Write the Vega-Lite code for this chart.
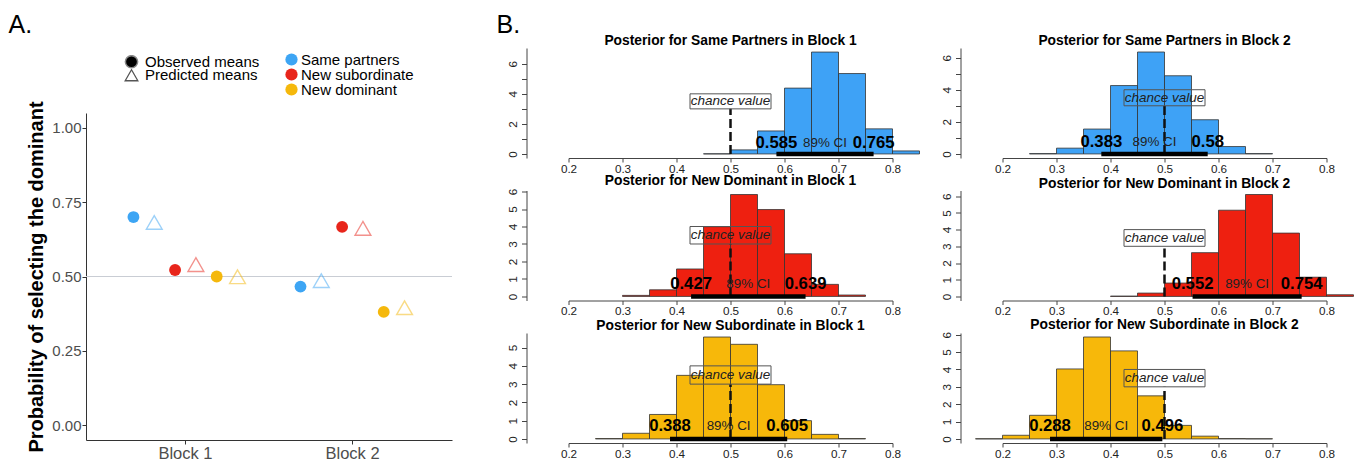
{
  "$schema": "https://vega.github.io/schema/vega-lite/v6.json",
  "padding": {"left": 8, "top": 13, "right": 0, "bottom": 0},
  "config": {
    "font": "Liberation Sans",
    "view": {"stroke": null},
    "axis": {"grid": false, "labelFlush": false, "labelOverlap": false},
    "title": {"color": "black"}
  },
  "datasets": {
    "means": [
      {"block": "Block 1", "condition": "Same partners", "type": "Observed means", "series": "Same partners Observed", "prob": 0.700},
      {"block": "Block 1", "condition": "Same partners", "type": "Predicted means", "series": "Same partners Predicted", "prob": 0.682},
      {"block": "Block 1", "condition": "New subordinate", "type": "Observed means", "series": "New subordinate Observed", "prob": 0.522},
      {"block": "Block 1", "condition": "New subordinate", "type": "Predicted means", "series": "New subordinate Predicted", "prob": 0.540},
      {"block": "Block 1", "condition": "New dominant", "type": "Observed means", "series": "New dominant Observed", "prob": 0.500},
      {"block": "Block 1", "condition": "New dominant", "type": "Predicted means", "series": "New dominant Predicted", "prob": 0.499},
      {"block": "Block 2", "condition": "Same partners", "type": "Observed means", "series": "Same partners Observed", "prob": 0.466},
      {"block": "Block 2", "condition": "Same partners", "type": "Predicted means", "series": "Same partners Predicted", "prob": 0.486},
      {"block": "Block 2", "condition": "New subordinate", "type": "Observed means", "series": "New subordinate Observed", "prob": 0.667},
      {"block": "Block 2", "condition": "New subordinate", "type": "Predicted means", "series": "New subordinate Predicted", "prob": 0.662},
      {"block": "Block 2", "condition": "New dominant", "type": "Observed means", "series": "New dominant Observed", "prob": 0.381},
      {"block": "Block 2", "condition": "New dominant", "type": "Predicted means", "series": "New dominant Predicted", "prob": 0.395}
    ],
    "chance": [{"prob": 0.5}],
    "ci": [
      {"panel": "sp1", "lower": 0.585, "upper": 0.765},
      {"panel": "sp2", "lower": 0.383, "upper": 0.58},
      {"panel": "nd1", "lower": 0.427, "upper": 0.639},
      {"panel": "nd2", "lower": 0.552, "upper": 0.754},
      {"panel": "ns1", "lower": 0.388, "upper": 0.605},
      {"panel": "ns2", "lower": 0.288, "upper": 0.496}
    ],
    "bins": [
      {"panel": "sp1", "lo": 0.45, "hi": 0.50, "density": 0.01},
      {"panel": "sp1", "lo": 0.50, "hi": 0.55, "density": 0.27},
      {"panel": "sp1", "lo": 0.55, "hi": 0.60, "density": 1.53},
      {"panel": "sp1", "lo": 0.60, "hi": 0.65, "density": 4.38},
      {"panel": "sp1", "lo": 0.65, "hi": 0.70, "density": 6.78},
      {"panel": "sp1", "lo": 0.70, "hi": 0.75, "density": 5.35},
      {"panel": "sp1", "lo": 0.75, "hi": 0.80, "density": 1.67},
      {"panel": "sp1", "lo": 0.80, "hi": 0.85, "density": 0.20},
      {"panel": "sp2", "lo": 0.25, "hi": 0.30, "density": 0.02},
      {"panel": "sp2", "lo": 0.30, "hi": 0.35, "density": 0.36},
      {"panel": "sp2", "lo": 0.35, "hi": 0.40, "density": 1.55},
      {"panel": "sp2", "lo": 0.40, "hi": 0.45, "density": 4.26},
      {"panel": "sp2", "lo": 0.45, "hi": 0.50, "density": 6.35},
      {"panel": "sp2", "lo": 0.50, "hi": 0.55, "density": 4.87},
      {"panel": "sp2", "lo": 0.55, "hi": 0.60, "density": 2.13},
      {"panel": "sp2", "lo": 0.60, "hi": 0.65, "density": 0.46},
      {"panel": "sp2", "lo": 0.65, "hi": 0.70, "density": 0.02},
      {"panel": "nd1", "lo": 0.30, "hi": 0.35, "density": 0.06},
      {"panel": "nd1", "lo": 0.35, "hi": 0.40, "density": 0.38},
      {"panel": "nd1", "lo": 0.40, "hi": 0.45, "density": 1.57},
      {"panel": "nd1", "lo": 0.45, "hi": 0.50, "density": 3.99},
      {"panel": "nd1", "lo": 0.50, "hi": 0.55, "density": 5.83},
      {"panel": "nd1", "lo": 0.55, "hi": 0.60, "density": 4.97},
      {"panel": "nd1", "lo": 0.60, "hi": 0.65, "density": 2.44},
      {"panel": "nd1", "lo": 0.65, "hi": 0.70, "density": 0.69},
      {"panel": "nd1", "lo": 0.70, "hi": 0.75, "density": 0.08},
      {"panel": "nd2", "lo": 0.40, "hi": 0.45, "density": 0.02},
      {"panel": "nd2", "lo": 0.45, "hi": 0.50, "density": 0.20},
      {"panel": "nd2", "lo": 0.50, "hi": 0.55, "density": 0.80},
      {"panel": "nd2", "lo": 0.55, "hi": 0.60, "density": 2.62},
      {"panel": "nd2", "lo": 0.60, "hi": 0.65, "density": 5.16},
      {"panel": "nd2", "lo": 0.65, "hi": 0.70, "density": 6.10},
      {"panel": "nd2", "lo": 0.70, "hi": 0.75, "density": 3.79},
      {"panel": "nd2", "lo": 0.75, "hi": 0.80, "density": 1.15},
      {"panel": "nd2", "lo": 0.80, "hi": 0.85, "density": 0.10},
      {"panel": "ns1", "lo": 0.25, "hi": 0.30, "density": 0.02},
      {"panel": "ns1", "lo": 0.30, "hi": 0.35, "density": 0.31},
      {"panel": "ns1", "lo": 0.35, "hi": 0.40, "density": 1.34},
      {"panel": "ns1", "lo": 0.40, "hi": 0.45, "density": 3.48},
      {"panel": "ns1", "lo": 0.45, "hi": 0.50, "density": 5.58},
      {"panel": "ns1", "lo": 0.50, "hi": 0.55, "density": 5.18},
      {"panel": "ns1", "lo": 0.55, "hi": 0.60, "density": 2.97},
      {"panel": "ns1", "lo": 0.60, "hi": 0.65, "density": 1.00},
      {"panel": "ns1", "lo": 0.65, "hi": 0.70, "density": 0.25},
      {"panel": "ns1", "lo": 0.70, "hi": 0.75, "density": 0.02},
      {"panel": "ns2", "lo": 0.15, "hi": 0.20, "density": 0.01},
      {"panel": "ns2", "lo": 0.20, "hi": 0.25, "density": 0.21},
      {"panel": "ns2", "lo": 0.25, "hi": 0.30, "density": 1.36},
      {"panel": "ns2", "lo": 0.30, "hi": 0.35, "density": 4.03},
      {"panel": "ns2", "lo": 0.35, "hi": 0.40, "density": 5.87},
      {"panel": "ns2", "lo": 0.40, "hi": 0.45, "density": 5.07},
      {"panel": "ns2", "lo": 0.45, "hi": 0.50, "density": 2.48},
      {"panel": "ns2", "lo": 0.50, "hi": 0.55, "density": 0.78},
      {"panel": "ns2", "lo": 0.55, "hi": 0.60, "density": 0.16},
      {"panel": "ns2", "lo": 0.60, "hi": 0.65, "density": 0.02},
      {"panel": "ns2", "lo": 0.65, "hi": 0.70, "density": 0.01}
    ]
  },
  "resolve": {
    "scale": {"color": "independent", "shape": "independent"},
    "legend": {"color": "independent", "shape": "independent"}
  },
  "spacing": 43.5,
  "hconcat": [
    {
      "title": {"text": "A.", "anchor": "start", "frame": "group", "fontSize": 25, "fontWeight": "normal", "baseline": "alphabetic", "offset": -10, "dx": -77.5},
      "width": 366,
      "height": 392,
      "resolve": {"scale": {"shape": "independent"}, "legend": {"shape": "independent"}},
      "layer": [
        {
          "data": {"name": "chance"},
          "mark": {"type": "rule", "color": "#c9cdd4", "strokeWidth": 1.2},
          "encoding": {
            "y": {"field": "prob", "type": "quantitative", "title": "Probability of selecting the dominant"}
          }
        },
        {
          "data": {"name": "means"},
          "transform": [{"filter": "datum.type === 'Observed means'"}],
          "mark": {"type": "point", "filled": true, "size": 140, "opacity": 1},
          "encoding": {
            "x": {"field": "block", "type": "nominal", "scale": {"paddingInner": 0.377, "paddingOuter": 0.284},
                  "axis": {"title": null, "labelAngle": 0, "labelFontSize": 16.5, "labelColor": "#4d4d4d", "tickSize": 4, "labelPadding": 1, "domainColor": "#333", "tickColor": "#333"}},
            "xOffset": {"field": "series", "type": "nominal", "scale": {"domain": ["Same partners Observed", "Same partners Predicted", "New subordinate Observed", "New subordinate Predicted", "New dominant Observed", "New dominant Predicted"], "paddingInner": 0, "paddingOuter": 0}},
            "y": {"field": "prob", "type": "quantitative", "title": "Probability of selecting the dominant",
                  "scale": {"domain": [-0.05, 1.05], "nice": false, "zero": false, "range": [392, 65]},
                  "axis": {"values": [0, 0.25, 0.5, 0.75, 1], "tickCount": 10, "format": ".2f", "labelFontSize": 15, "labelColor": "#4d4d4d", "tickSize": 4, "labelPadding": 1, "titlePadding": 5, "titleFontSize": 20, "titleFontWeight": "bold", "titleColor": "black", "domainColor": "#333", "tickColor": "#333"}},
            "color": {"field": "condition", "type": "nominal",
                      "scale": {"domain": ["Same partners", "New subordinate", "New dominant"], "range": ["#3da5f4", "#e8251b", "#f5b80c"]},
                      "legend": {"orient": "none", "legendX": 198, "legendY": 5, "title": null, "labelFontSize": 15, "labelColor": "black", "symbolType": "circle", "symbolSize": 150, "symbolOpacity": 1, "symbolStrokeWidth": 0, "rowPadding": -1, "clipHeight": 13, "labelOffset": 2}},
            "shape": {"field": "type", "type": "nominal",
                      "scale": {"domain": ["Observed means"], "range": ["circle"]},
                      "legend": {"orient": "none", "legendX": 38, "legendY": 7, "title": null, "labelFontSize": 15, "labelColor": "black", "symbolSize": 150, "symbolFillColor": "black", "symbolOpacity": 1, "clipHeight": 13.5, "labelOffset": 6}}
          }
        },
        {
          "data": {"name": "means"},
          "transform": [{"filter": "datum.type === 'Predicted means'"}],
          "mark": {"type": "point", "filled": false, "size": 250, "strokeWidth": 1.4, "opacity": 0.5},
          "encoding": {
            "x": {"field": "block", "type": "nominal"},
            "xOffset": {"field": "series", "type": "nominal"},
            "y": {"field": "prob", "type": "quantitative", "title": "Probability of selecting the dominant"},
            "color": {"field": "condition", "type": "nominal",
                      "legend": {"orient": "none", "legendX": 198, "legendY": 5, "title": null, "labelFontSize": 15, "labelColor": "black", "symbolType": "circle", "symbolSize": 150, "symbolOpacity": 1, "symbolStrokeWidth": 0, "rowPadding": -1, "clipHeight": 13, "labelOffset": 2}},
            "shape": {"field": "type", "type": "nominal",
                      "scale": {"domain": ["Predicted means"], "range": ["triangle-up"]},
                      "legend": {"orient": "none", "legendX": 38, "legendY": 20.5, "title": null, "labelFontSize": 15, "labelColor": "black", "symbolSize": 160, "symbolStrokeColor": "#555", "symbolStrokeWidth": 1.3, "symbolOpacity": 1, "clipHeight": 13.5, "labelOffset": 6}}
          }
        }
      ]
    },
    {
      "title": {"text": "B.", "anchor": "start", "frame": "group", "fontSize": 25, "fontWeight": "normal", "baseline": "alphabetic", "offset": -24, "dx": -72},
      "columns": 2,
      "spacing": {"row": 32.5, "column": 110},
      "bounds": "flush",
      "concat": [
        {
          "width": 324, "height": 110,
          "title": {"text": "Posterior for Same Partners in Block 1", "fontSize": 13.8, "fontWeight": "bold", "frame": "group", "anchor": "middle", "baseline": "alphabetic", "offset": -11},
          "layer": [
            {"data": {"name": "bins"}, "transform": [{"filter": "datum.panel === 'sp1'"}],
             "mark": {"type": "rect", "fill": "#3ea2f6", "stroke": "#333", "strokeWidth": 0.8},
             "encoding": {
               "x": {"field": "lo", "type": "quantitative", "scale": {"domain": [0.2, 0.8], "nice": false, "zero": false},
                     "axis": {"title": null, "values": [0.2, 0.3, 0.4, 0.5, 0.6, 0.7, 0.8], "tickCount": 10, "format": ".1f", "labelFontSize": 11.7, "labelColor": "#222", "tickSize": 4, "labelPadding": 1, "labelOverlap": false, "domainColor": "#444", "tickColor": "#444"}},
               "x2": {"field": "hi"},
               "y": {"field": "density", "type": "quantitative", "scale": {"domain": [-0.27, 7.05], "nice": false, "zero": false},
                     "axis": {"title": null, "values": [0, 1, 2, 3, 4, 5, 6], "tickCount": 10, "format": "d", "labelExpr": "datum.value % 2 === 0 ? datum.label : ''", "offset": 42, "labelAngle": -90, "labelAlign": "center", "labelBaseline": "bottom", "labelOverlap": false, "labelFontSize": 11.7, "labelColor": "#222", "tickSize": 5, "labelPadding": 3, "domainColor": "#444", "tickColor": "#444"}},
               "y2": {"datum": 0}
             }},
            {"data": {"name": "chance"}, "mark": {"type": "rule", "color": "#111", "strokeWidth": 2.5, "strokeDash": [9, 4]},
             "encoding": {"x": {"field": "prob", "type": "quantitative"}, "y": {"datum": 0}, "y2": {"datum": 3}}},
            {"data": {"name": "chance"}, "mark": {"type": "rect", "filled": false, "stroke": "#555", "strokeWidth": 1},
             "encoding": {"x": {"datum": 0.425}, "x2": {"datum": 0.575}, "y": {"datum": 3}, "y2": {"datum": 4}}},
            {"data": {"name": "chance"}, "mark": {"type": "text", "text": "chance value", "fontStyle": "italic", "fontSize": 13.5, "color": "#222", "baseline": "middle"},
             "encoding": {"x": {"field": "prob", "type": "quantitative"}, "y": {"datum": 3.5}}},
            {"data": {"name": "ci"}, "transform": [{"filter": "datum.panel === 'sp1'"}], "mark": {"type": "rule", "color": "black", "strokeWidth": 4.5},
             "encoding": {"x": {"field": "lower", "type": "quantitative"}, "x2": {"field": "upper"}, "y": {"datum": 0}}},
            {"data": {"name": "ci"}, "transform": [{"filter": "datum.panel === 'sp1'"}], "mark": {"type": "text", "fontSize": 16.7, "fontWeight": "bold", "color": "black", "baseline": "middle"},
             "encoding": {"x": {"field": "lower", "type": "quantitative"}, "y": {"datum": 0.72}, "text": {"field": "lower", "type": "nominal"}}},
            {"data": {"name": "ci"}, "transform": [{"filter": "datum.panel === 'sp1'"}], "mark": {"type": "text", "fontSize": 16.7, "fontWeight": "bold", "color": "black", "baseline": "middle"},
             "encoding": {"x": {"field": "upper", "type": "quantitative"}, "y": {"datum": 0.72}, "text": {"field": "upper", "type": "nominal"}}},
            {"data": {"name": "ci"}, "transform": [{"filter": "datum.panel === 'sp1'"}, {"calculate": "(datum.lower + datum.upper) / 2", "as": "mid"}], "mark": {"type": "text", "text": "89% CI", "fontSize": 13.4, "color": "#222", "baseline": "middle"},
             "encoding": {"x": {"field": "mid", "type": "quantitative"}, "y": {"datum": 0.72}}}
          ]
        },
        {
          "width": 324, "height": 110,
          "title": {"text": "Posterior for Same Partners in Block 2", "fontSize": 13.8, "fontWeight": "bold", "frame": "group", "anchor": "middle", "baseline": "alphabetic", "offset": -11},
          "layer": [
            {"data": {"name": "bins"}, "transform": [{"filter": "datum.panel === 'sp2'"}],
             "mark": {"type": "rect", "fill": "#3ea2f6", "stroke": "#333", "strokeWidth": 0.8},
             "encoding": {
               "x": {"field": "lo", "type": "quantitative", "scale": {"domain": [0.2, 0.8], "nice": false, "zero": false},
                     "axis": {"title": null, "values": [0.2, 0.3, 0.4, 0.5, 0.6, 0.7, 0.8], "tickCount": 10, "format": ".1f", "labelFontSize": 11.7, "labelColor": "#222", "tickSize": 4, "labelPadding": 1, "labelOverlap": false, "domainColor": "#444", "tickColor": "#444"}},
               "x2": {"field": "hi"},
               "y": {"field": "density", "type": "quantitative", "scale": {"domain": [-0.254, 6.6], "nice": false, "zero": false},
                     "axis": {"title": null, "values": [0, 1, 2, 3, 4, 5, 6], "tickCount": 10, "format": "d", "labelExpr": "datum.value % 2 === 0 ? datum.label : ''", "offset": 42, "labelAngle": -90, "labelAlign": "center", "labelBaseline": "bottom", "labelOverlap": false, "labelFontSize": 11.7, "labelColor": "#222", "tickSize": 5, "labelPadding": 3, "domainColor": "#444", "tickColor": "#444"}},
               "y2": {"datum": 0}
             }},
            {"data": {"name": "chance"}, "mark": {"type": "rule", "color": "#111", "strokeWidth": 2.5, "strokeDash": [9, 4]},
             "encoding": {"x": {"field": "prob", "type": "quantitative"}, "y": {"datum": 0}, "y2": {"datum": 3}}},
            {"data": {"name": "chance"}, "mark": {"type": "rect", "filled": false, "stroke": "#555", "strokeWidth": 1},
             "encoding": {"x": {"datum": 0.425}, "x2": {"datum": 0.575}, "y": {"datum": 3}, "y2": {"datum": 4}}},
            {"data": {"name": "chance"}, "mark": {"type": "text", "text": "chance value", "fontStyle": "italic", "fontSize": 13.5, "color": "#222", "baseline": "middle"},
             "encoding": {"x": {"field": "prob", "type": "quantitative"}, "y": {"datum": 3.5}}},
            {"data": {"name": "ci"}, "transform": [{"filter": "datum.panel === 'sp2'"}], "mark": {"type": "rule", "color": "black", "strokeWidth": 4.5},
             "encoding": {"x": {"field": "lower", "type": "quantitative"}, "x2": {"field": "upper"}, "y": {"datum": 0}}},
            {"data": {"name": "ci"}, "transform": [{"filter": "datum.panel === 'sp2'"}], "mark": {"type": "text", "fontSize": 16.7, "fontWeight": "bold", "color": "black", "baseline": "middle"},
             "encoding": {"x": {"field": "lower", "type": "quantitative"}, "y": {"datum": 0.72}, "text": {"field": "lower", "type": "nominal"}}},
            {"data": {"name": "ci"}, "transform": [{"filter": "datum.panel === 'sp2'"}], "mark": {"type": "text", "fontSize": 16.7, "fontWeight": "bold", "color": "black", "baseline": "middle"},
             "encoding": {"x": {"field": "upper", "type": "quantitative"}, "y": {"datum": 0.72}, "text": {"field": "upper", "type": "nominal"}}},
            {"data": {"name": "ci"}, "transform": [{"filter": "datum.panel === 'sp2'"}, {"calculate": "(datum.lower + datum.upper) / 2", "as": "mid"}], "mark": {"type": "text", "text": "89% CI", "fontSize": 13.4, "color": "#222", "baseline": "middle"},
             "encoding": {"x": {"field": "mid", "type": "quantitative"}, "y": {"datum": 0.72}}}
          ]
        },
        {
          "width": 324, "height": 110,
          "title": {"text": "Posterior for New Dominant in Block 1", "fontSize": 13.8, "fontWeight": "bold", "frame": "group", "anchor": "middle", "baseline": "alphabetic", "offset": -11},
          "layer": [
            {"data": {"name": "bins"}, "transform": [{"filter": "datum.panel === 'nd1'"}],
             "mark": {"type": "rect", "fill": "#ee2010", "stroke": "#333", "strokeWidth": 0.8},
             "encoding": {
               "x": {"field": "lo", "type": "quantitative", "scale": {"domain": [0.2, 0.8], "nice": false, "zero": false},
                     "axis": {"title": null, "values": [0.2, 0.3, 0.4, 0.5, 0.6, 0.7, 0.8], "tickCount": 10, "format": ".1f", "labelFontSize": 11.7, "labelColor": "#222", "tickSize": 4, "labelPadding": 1, "labelOverlap": false, "domainColor": "#444", "tickColor": "#444"}},
               "x2": {"field": "hi"},
               "y": {"field": "density", "type": "quantitative", "scale": {"domain": [-0.233, 6.06], "nice": false, "zero": false},
                     "axis": {"title": null, "values": [0, 1, 2, 3, 4, 5, 6], "tickCount": 10, "format": "d", "offset": 42, "labelAngle": -90, "labelAlign": "center", "labelBaseline": "bottom", "labelOverlap": false, "labelFontSize": 11.7, "labelColor": "#222", "tickSize": 5, "labelPadding": 3, "domainColor": "#444", "tickColor": "#444"}},
               "y2": {"datum": 0}
             }},
            {"data": {"name": "chance"}, "mark": {"type": "rule", "color": "#111", "strokeWidth": 2.5, "strokeDash": [9, 4]},
             "encoding": {"x": {"field": "prob", "type": "quantitative"}, "y": {"datum": 0}, "y2": {"datum": 3}}},
            {"data": {"name": "chance"}, "mark": {"type": "rect", "filled": false, "stroke": "#555", "strokeWidth": 1},
             "encoding": {"x": {"datum": 0.425}, "x2": {"datum": 0.575}, "y": {"datum": 3}, "y2": {"datum": 4}}},
            {"data": {"name": "chance"}, "mark": {"type": "text", "text": "chance value", "fontStyle": "italic", "fontSize": 13.5, "color": "#222", "baseline": "middle"},
             "encoding": {"x": {"field": "prob", "type": "quantitative"}, "y": {"datum": 3.5}}},
            {"data": {"name": "ci"}, "transform": [{"filter": "datum.panel === 'nd1'"}], "mark": {"type": "rule", "color": "black", "strokeWidth": 4.5},
             "encoding": {"x": {"field": "lower", "type": "quantitative"}, "x2": {"field": "upper"}, "y": {"datum": 0}}},
            {"data": {"name": "ci"}, "transform": [{"filter": "datum.panel === 'nd1'"}], "mark": {"type": "text", "fontSize": 16.7, "fontWeight": "bold", "color": "black", "baseline": "middle"},
             "encoding": {"x": {"field": "lower", "type": "quantitative"}, "y": {"datum": 0.72}, "text": {"field": "lower", "type": "nominal"}}},
            {"data": {"name": "ci"}, "transform": [{"filter": "datum.panel === 'nd1'"}], "mark": {"type": "text", "fontSize": 16.7, "fontWeight": "bold", "color": "black", "baseline": "middle"},
             "encoding": {"x": {"field": "upper", "type": "quantitative"}, "y": {"datum": 0.72}, "text": {"field": "upper", "type": "nominal"}}},
            {"data": {"name": "ci"}, "transform": [{"filter": "datum.panel === 'nd1'"}, {"calculate": "(datum.lower + datum.upper) / 2", "as": "mid"}], "mark": {"type": "text", "text": "89% CI", "fontSize": 13.4, "color": "#222", "baseline": "middle"},
             "encoding": {"x": {"field": "mid", "type": "quantitative"}, "y": {"datum": 0.72}}}
          ]
        },
        {
          "width": 324, "height": 110,
          "title": {"text": "Posterior for New Dominant in Block 2", "fontSize": 13.8, "fontWeight": "bold", "frame": "group", "anchor": "middle", "baseline": "alphabetic", "offset": -11},
          "layer": [
            {"data": {"name": "bins"}, "transform": [{"filter": "datum.panel === 'nd2'"}],
             "mark": {"type": "rect", "fill": "#ee2010", "stroke": "#333", "strokeWidth": 0.8},
             "encoding": {
               "x": {"field": "lo", "type": "quantitative", "scale": {"domain": [0.2, 0.8], "nice": false, "zero": false},
                     "axis": {"title": null, "values": [0.2, 0.3, 0.4, 0.5, 0.6, 0.7, 0.8], "tickCount": 10, "format": ".1f", "labelFontSize": 11.7, "labelColor": "#222", "tickSize": 4, "labelPadding": 1, "labelOverlap": false, "domainColor": "#444", "tickColor": "#444"}},
               "x2": {"field": "hi"},
               "y": {"field": "density", "type": "quantitative", "scale": {"domain": [-0.244, 6.34], "nice": false, "zero": false},
                     "axis": {"title": null, "values": [0, 1, 2, 3, 4, 5, 6], "tickCount": 10, "format": "d", "offset": 42, "labelAngle": -90, "labelAlign": "center", "labelBaseline": "bottom", "labelOverlap": false, "labelFontSize": 11.7, "labelColor": "#222", "tickSize": 5, "labelPadding": 3, "domainColor": "#444", "tickColor": "#444"}},
               "y2": {"datum": 0}
             }},
            {"data": {"name": "chance"}, "mark": {"type": "rule", "color": "#111", "strokeWidth": 2.5, "strokeDash": [9, 4]},
             "encoding": {"x": {"field": "prob", "type": "quantitative"}, "y": {"datum": 0}, "y2": {"datum": 3}}},
            {"data": {"name": "chance"}, "mark": {"type": "rect", "filled": false, "stroke": "#555", "strokeWidth": 1},
             "encoding": {"x": {"datum": 0.425}, "x2": {"datum": 0.575}, "y": {"datum": 3}, "y2": {"datum": 4}}},
            {"data": {"name": "chance"}, "mark": {"type": "text", "text": "chance value", "fontStyle": "italic", "fontSize": 13.5, "color": "#222", "baseline": "middle"},
             "encoding": {"x": {"field": "prob", "type": "quantitative"}, "y": {"datum": 3.5}}},
            {"data": {"name": "ci"}, "transform": [{"filter": "datum.panel === 'nd2'"}], "mark": {"type": "rule", "color": "black", "strokeWidth": 4.5},
             "encoding": {"x": {"field": "lower", "type": "quantitative"}, "x2": {"field": "upper"}, "y": {"datum": 0}}},
            {"data": {"name": "ci"}, "transform": [{"filter": "datum.panel === 'nd2'"}], "mark": {"type": "text", "fontSize": 16.7, "fontWeight": "bold", "color": "black", "baseline": "middle"},
             "encoding": {"x": {"field": "lower", "type": "quantitative"}, "y": {"datum": 0.72}, "text": {"field": "lower", "type": "nominal"}}},
            {"data": {"name": "ci"}, "transform": [{"filter": "datum.panel === 'nd2'"}], "mark": {"type": "text", "fontSize": 16.7, "fontWeight": "bold", "color": "black", "baseline": "middle"},
             "encoding": {"x": {"field": "upper", "type": "quantitative"}, "y": {"datum": 0.72}, "text": {"field": "upper", "type": "nominal"}}},
            {"data": {"name": "ci"}, "transform": [{"filter": "datum.panel === 'nd2'"}, {"calculate": "(datum.lower + datum.upper) / 2", "as": "mid"}], "mark": {"type": "text", "text": "89% CI", "fontSize": 13.4, "color": "#222", "baseline": "middle"},
             "encoding": {"x": {"field": "mid", "type": "quantitative"}, "y": {"datum": 0.72}}}
          ]
        },
        {
          "width": 324, "height": 110,
          "title": {"text": "Posterior for New Subordinate in Block 1", "fontSize": 13.8, "fontWeight": "bold", "frame": "group", "anchor": "middle", "baseline": "alphabetic", "offset": -11},
          "layer": [
            {"data": {"name": "bins"}, "transform": [{"filter": "datum.panel === 'ns1'"}],
             "mark": {"type": "rect", "fill": "#f7b80a", "stroke": "#333", "strokeWidth": 0.8},
             "encoding": {
               "x": {"field": "lo", "type": "quantitative", "scale": {"domain": [0.2, 0.8], "nice": false, "zero": false},
                     "axis": {"title": null, "values": [0.2, 0.3, 0.4, 0.5, 0.6, 0.7, 0.8], "tickCount": 10, "format": ".1f", "labelFontSize": 11.7, "labelColor": "#222", "tickSize": 4, "labelPadding": 1, "labelOverlap": false, "domainColor": "#444", "tickColor": "#444"}},
               "x2": {"field": "hi"},
               "y": {"field": "density", "type": "quantitative", "scale": {"domain": [-0.223, 5.8], "nice": false, "zero": false},
                     "axis": {"title": null, "values": [0, 1, 2, 3, 4, 5], "tickCount": 10, "format": "d", "offset": 42, "labelAngle": -90, "labelAlign": "center", "labelBaseline": "bottom", "labelOverlap": false, "labelFontSize": 11.7, "labelColor": "#222", "tickSize": 5, "labelPadding": 3, "domainColor": "#444", "tickColor": "#444"}},
               "y2": {"datum": 0}
             }},
            {"data": {"name": "chance"}, "mark": {"type": "rule", "color": "#111", "strokeWidth": 2.5, "strokeDash": [9, 4]},
             "encoding": {"x": {"field": "prob", "type": "quantitative"}, "y": {"datum": 0}, "y2": {"datum": 3}}},
            {"data": {"name": "chance"}, "mark": {"type": "rect", "filled": false, "stroke": "#555", "strokeWidth": 1},
             "encoding": {"x": {"datum": 0.425}, "x2": {"datum": 0.575}, "y": {"datum": 3}, "y2": {"datum": 4}}},
            {"data": {"name": "chance"}, "mark": {"type": "text", "text": "chance value", "fontStyle": "italic", "fontSize": 13.5, "color": "#222", "baseline": "middle"},
             "encoding": {"x": {"field": "prob", "type": "quantitative"}, "y": {"datum": 3.5}}},
            {"data": {"name": "ci"}, "transform": [{"filter": "datum.panel === 'ns1'"}], "mark": {"type": "rule", "color": "black", "strokeWidth": 4.5},
             "encoding": {"x": {"field": "lower", "type": "quantitative"}, "x2": {"field": "upper"}, "y": {"datum": 0}}},
            {"data": {"name": "ci"}, "transform": [{"filter": "datum.panel === 'ns1'"}], "mark": {"type": "text", "fontSize": 16.7, "fontWeight": "bold", "color": "black", "baseline": "middle"},
             "encoding": {"x": {"field": "lower", "type": "quantitative"}, "y": {"datum": 0.72}, "text": {"field": "lower", "type": "nominal"}}},
            {"data": {"name": "ci"}, "transform": [{"filter": "datum.panel === 'ns1'"}], "mark": {"type": "text", "fontSize": 16.7, "fontWeight": "bold", "color": "black", "baseline": "middle"},
             "encoding": {"x": {"field": "upper", "type": "quantitative"}, "y": {"datum": 0.72}, "text": {"field": "upper", "type": "nominal"}}},
            {"data": {"name": "ci"}, "transform": [{"filter": "datum.panel === 'ns1'"}, {"calculate": "(datum.lower + datum.upper) / 2", "as": "mid"}], "mark": {"type": "text", "text": "89% CI", "fontSize": 13.4, "color": "#222", "baseline": "middle"},
             "encoding": {"x": {"field": "mid", "type": "quantitative"}, "y": {"datum": 0.72}}}
          ]
        },
        {
          "width": 324, "height": 110,
          "title": {"text": "Posterior for New Subordinate in Block 2", "fontSize": 13.8, "fontWeight": "bold", "frame": "group", "anchor": "middle", "baseline": "alphabetic", "offset": -11},
          "layer": [
            {"data": {"name": "bins"}, "transform": [{"filter": "datum.panel === 'ns2'"}],
             "mark": {"type": "rect", "fill": "#f7b80a", "stroke": "#333", "strokeWidth": 0.8},
             "encoding": {
               "x": {"field": "lo", "type": "quantitative", "scale": {"domain": [0.2, 0.8], "nice": false, "zero": false},
                     "axis": {"title": null, "values": [0.2, 0.3, 0.4, 0.5, 0.6, 0.7, 0.8], "tickCount": 10, "format": ".1f", "labelFontSize": 11.7, "labelColor": "#222", "tickSize": 4, "labelPadding": 1, "labelOverlap": false, "domainColor": "#444", "tickColor": "#444"}},
               "x2": {"field": "hi"},
               "y": {"field": "density", "type": "quantitative", "scale": {"domain": [-0.235, 6.1], "nice": false, "zero": false},
                     "axis": {"title": null, "values": [0, 1, 2, 3, 4, 5, 6], "tickCount": 10, "format": "d", "offset": 42, "labelAngle": -90, "labelAlign": "center", "labelBaseline": "bottom", "labelOverlap": false, "labelFontSize": 11.7, "labelColor": "#222", "tickSize": 5, "labelPadding": 3, "domainColor": "#444", "tickColor": "#444"}},
               "y2": {"datum": 0}
             }},
            {"data": {"name": "chance"}, "mark": {"type": "rule", "color": "#111", "strokeWidth": 2.5, "strokeDash": [9, 4]},
             "encoding": {"x": {"field": "prob", "type": "quantitative"}, "y": {"datum": 0}, "y2": {"datum": 3}}},
            {"data": {"name": "chance"}, "mark": {"type": "rect", "filled": false, "stroke": "#555", "strokeWidth": 1},
             "encoding": {"x": {"datum": 0.425}, "x2": {"datum": 0.575}, "y": {"datum": 3}, "y2": {"datum": 4}}},
            {"data": {"name": "chance"}, "mark": {"type": "text", "text": "chance value", "fontStyle": "italic", "fontSize": 13.5, "color": "#222", "baseline": "middle"},
             "encoding": {"x": {"field": "prob", "type": "quantitative"}, "y": {"datum": 3.5}}},
            {"data": {"name": "ci"}, "transform": [{"filter": "datum.panel === 'ns2'"}], "mark": {"type": "rule", "color": "black", "strokeWidth": 4.5},
             "encoding": {"x": {"field": "lower", "type": "quantitative"}, "x2": {"field": "upper"}, "y": {"datum": 0}}},
            {"data": {"name": "ci"}, "transform": [{"filter": "datum.panel === 'ns2'"}], "mark": {"type": "text", "fontSize": 16.7, "fontWeight": "bold", "color": "black", "baseline": "middle"},
             "encoding": {"x": {"field": "lower", "type": "quantitative"}, "y": {"datum": 0.72}, "text": {"field": "lower", "type": "nominal"}}},
            {"data": {"name": "ci"}, "transform": [{"filter": "datum.panel === 'ns2'"}], "mark": {"type": "text", "fontSize": 16.7, "fontWeight": "bold", "color": "black", "baseline": "middle"},
             "encoding": {"x": {"field": "upper", "type": "quantitative"}, "y": {"datum": 0.72}, "text": {"field": "upper", "type": "nominal"}}},
            {"data": {"name": "ci"}, "transform": [{"filter": "datum.panel === 'ns2'"}, {"calculate": "(datum.lower + datum.upper) / 2", "as": "mid"}], "mark": {"type": "text", "text": "89% CI", "fontSize": 13.4, "color": "#222", "baseline": "middle"},
             "encoding": {"x": {"field": "mid", "type": "quantitative"}, "y": {"datum": 0.72}}}
          ]
        }
      ]
    }
  ]
}
